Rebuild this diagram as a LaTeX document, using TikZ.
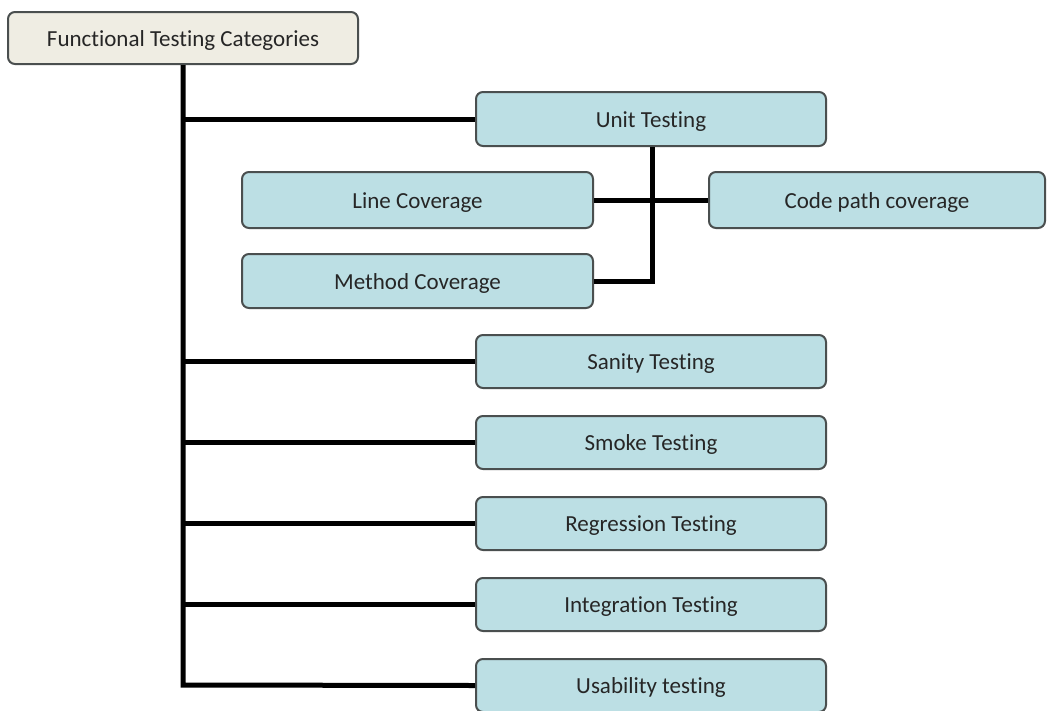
\documentclass[tikz,border=0pt]{standalone}
\usepackage{fontspec}
\setmainfont{Carlito}[Ligatures=NoCommon]
\definecolor{boxfill}{HTML}{BCDFE4}
\definecolor{rootfill}{HTML}{EFEDE3}
\definecolor{boxline}{HTML}{4A4F4F}
\tikzset{
  item/.style={draw=boxline, line width=2pt, fill=boxfill, rounded corners=7pt,
    minimum width=350pt, minimum height=54pt, inner sep=0pt,
    text height=18pt, text depth=2pt,
    font=\fontsize{23}{27}\selectfont, text=black!85},
  rootbox/.style={item, fill=rootfill, minimum height=52pt},
  link/.style={line width=5pt, black}
}
\begin{document}
\begin{tikzpicture}[x=1pt,y=-1pt]
\useasboundingbox[fill=white] (0,0) rectangle (1047,710);
\node[rootbox] (root) at (183,38) {Functional Testing Categories};
\node[item] (unit) at (651,119) {Unit Testing};
\node[item, minimum width=351pt, minimum height=56pt] (line) at (417.5,200) {Line Coverage};
\node[item, minimum width=336pt, minimum height=56pt] (code) at (877,200) {Code path coverage};
\node[item, minimum width=351pt] (method) at (417.5,281) {Method Coverage};
\node[item, minimum height=53pt] (sanity) at (651,361.5) {Sanity Testing};
\node[item, minimum height=53pt] (smoke) at (651,442.5) {Smoke Testing};
\node[item, minimum height=53pt] (regr) at (651,523.5) {Regression Testing};
\node[item, minimum height=53pt] (integ) at (651,604.5) {Integration Testing};
\node[item, minimum height=53pt] (usab) at (651,685.5) {Usability testing};
\coordinate (trunkend) at (183,685);
\coordinate (ujoin) at (652,281);
% connectors
\draw[link] (root.south) -- (trunkend) -- (usab.west);
\foreach \n in {unit,sanity,smoke,regr,integ}
  \draw[link] (root.south |- \n.west) -- (\n.west);
\draw[link] (line.east) -- (code.west);
\draw[link] (unit.south -| ujoin) -- (ujoin) -- (method.east);
\end{tikzpicture}
\end{document}
